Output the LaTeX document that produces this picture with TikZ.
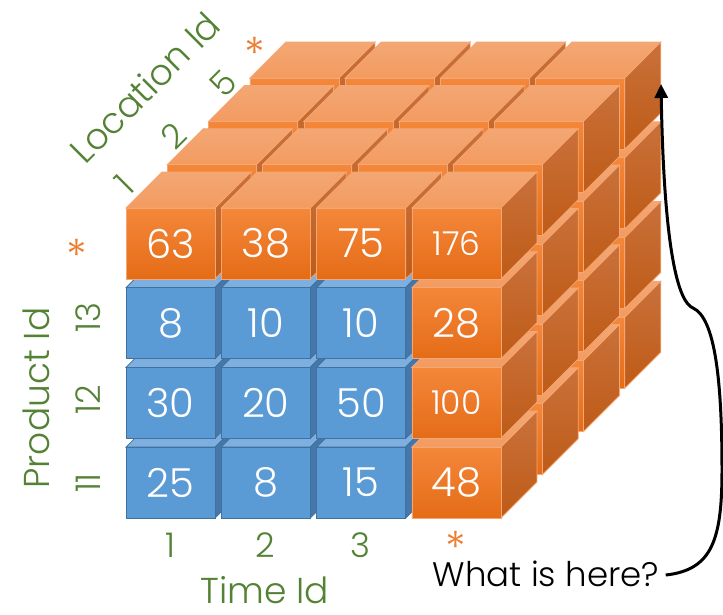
\documentclass[tikz,border=0pt]{standalone}
\usepackage{fontspec}
\setmainfont{Poppins Light}
\usetikzlibrary{arrows.meta,positioning}
\definecolor{orFrontT}{HTML}{F4873A}
\definecolor{orFrontB}{HTML}{E46C17}
\definecolor{orTopB}{HTML}{F39B60}
\definecolor{orTopT}{HTML}{F3A774}
\definecolor{orSideT}{HTML}{C9713B}
\definecolor{orSideB}{HTML}{BE5B17}
\definecolor{orEdge}{HTML}{F5A672}
\definecolor{blFront}{HTML}{5B9BD5}
\definecolor{blTop}{HTML}{7DB0E1}
\definecolor{blSide}{HTML}{4677AB}
\definecolor{blEdge}{HTML}{41719C}
\definecolor{axisgreen}{HTML}{548235}
\definecolor{starorange}{HTML}{ED7D31}

% one cube: front face top-left corner (#1,#2), colour set #3 (or / bl)
\newcommand\drawcube[3]{%
  \path[#3top] (#1,#2) -- ++(89,0) -- ++(36,-36) -- ++(-89,0) -- cycle;
  \path[#3side] (#1+89,#2) -- ++(36,-36) -- ++(0,71) -- ++(-36,36) -- cycle;
  \path[#3front] (#1,#2) rectangle ++(89,71);
}

\begin{document}
\begin{tikzpicture}[x=1pt,y=-1pt,
  ortop/.style={top color=orTopT, bottom color=orTopB, draw=orEdge, line width=0.8pt},
  orside/.style={top color=orSideT, bottom color=orSideB, draw=orEdge, line width=0.8pt},
  orfront/.style={top color=orFrontT, bottom color=orFrontB, draw=orEdge, line width=0.8pt},
  bltop/.style={fill=blTop, draw=blEdge, line width=0.8pt},
  blside/.style={fill=blSide, draw=blEdge, line width=0.8pt},
  blfront/.style={fill=blFront, draw=blEdge, line width=0.8pt},
  val/.style={text=white, font=\fontsize{40}{40}\selectfont},
  valsm/.style={text=white, font=\fontsize{33}{33}\selectfont},
  axnum/.style={text=axisgreen, font=\fontsize{34}{34}\selectfont, inner sep=1pt},
  axname/.style={text=axisgreen, font=\fontsize{36}{36}\selectfont, inner sep=1pt},
  star/.style={text=starorange, font=\fontsize{44}{44}\selectfont, inner sep=0pt},
  arr/.style={-{Triangle[length=14pt,width=13pt]}, line width=3pt}
]
\useasboundingbox (0,0) rectangle (723,614);

% cubes, back layer first
\foreach \l in {3,2,1,0} {
  \foreach \r in {3,2,1,0} {
    \foreach \c in {0,...,3} {
      \pgfmathsetmacro\cx{126+95.3*\c+41.3*\l}
      \pgfmathsetmacro\cy{208+79.7*\r-43.3*\l}
      \pgfmathtruncatemacro\isblue{and(\l==0,and(\r>0,\c<3))}
      \ifnum\isblue=1 \drawcube{\cx}{\cy}{bl}\else\drawcube{\cx}{\cy}{or}\fi
    }
  }
}

% values on the front layer
\foreach \row [count=\r from 0] in {{63,38,75,176},{8,10,10,28},{30,20,50,100},{25,8,15,48}} {
  \foreach \v [count=\c from 0] in \row {
    \ifnum\v>99
      \node[valsm] (v\r\c) at (170.5+95.3*\c, 243.5+79.7*\r) {\v};
    \else
      \node[val] (v\r\c) at (170.5+95.3*\c, 243.5+79.7*\r) {\v};
    \fi
  }
}

% time axis
\node[axnum] (t1) at (170,545) {1};
\node[axnum] (t2) at (265,545) {2};
\node[axnum] (t3) at (360,545) {3};
\node[star] (tall) at (456,547) {*};
\node[axname] (time) at (265,590) {Time Id};

% product axis
\node[axnum, rotate=90] (p13) at (88,318) {13};
\node[axnum, rotate=90] (p12) at (88,400) {12};
\node[axnum, rotate=90] (p11) at (88,483) {11};
\node[star] (pall) at (77,255) {*};
\node[axname, rotate=90] (product) at (36,398) {Product Id};

% location axis
\node[axnum, rotate=45] (l1) at (124,184) {1};
\node[axnum, rotate=45] (l2) at (174,136) {2};
\node[axnum, rotate=45] (l5) at (223,83) {5};
\node[star] (lall) at (255,53) {*};
\node[axname, rotate=45] (location) at (145,87) {Location Id};

% question
\node[font=\fontsize{34}{34}\selectfont] (q) at (546,574) {What is here?};
\coordinate (corner) at (661,84);
\draw[arr] ([xshift=3pt,yshift=-1pt]q.east) .. controls (712,570) and (722,540) .. (722,470)
  .. controls (722,380) and (715,318) .. (693,308)
  .. controls (678,302) and (664,250) .. (corner);
\end{tikzpicture}
\end{document}
